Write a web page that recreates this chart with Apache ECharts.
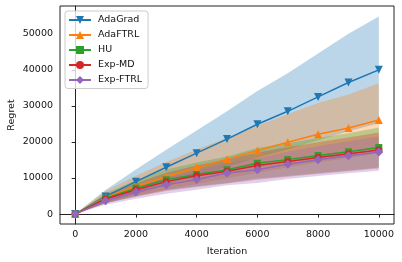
<!DOCTYPE html>
<html>
<head>
<meta charset="utf-8">
<script src="https://cdn.jsdelivr.net/npm/echarts@6/dist/echarts.min.js"></script>
<style>html,body{margin:0;padding:0;background:#fff}#c{width:402px;height:262px}</style>
</head>
<body>
<div id="c"></div>
<script>
const iterations = [0, 1000, 2000, 3000, 4000, 5000, 6000, 7000, 8000, 9000, 10000];
const xTicks = [0, 2000, 4000, 6000, 8000, 10000];
const yTicks = [0, 10000, 20000, 30000, 40000, 50000];

const adagradMean = [0, 4900, 9000, 13000, 16900, 20800, 24900, 28500, 32500, 36500, 40000];
const adagradHigh = [0, 6710, 12330, 17810, 23150, 28500, 34110, 39050, 44530, 50010, 54800];
const adagradLow  = [0, 3090, 5670, 8190, 10650, 13100, 15690, 17960, 20480, 23000, 25200];

const adaftrlMean = [0, 4600, 7650, 10400, 12900, 15240, 17620, 19940, 22150, 23850, 26100];
const adaftrlHigh = [0, 6390, 10630, 14460, 17930, 21180, 24490, 27720, 30790, 33150, 36280];
const adaftrlLow  = [0, 2990, 4970, 6760, 8390, 9910, 11450, 12960, 14400, 15500, 16970];

const huMean = [0, 4400, 7200, 9500, 11000, 12300, 14100, 15100, 16230, 17260, 18450];
const huHigh = [0, 5720, 9360, 12350, 14300, 15990, 18330, 19630, 21100, 22440, 23990];
const huLow  = [0, 3080, 5040, 6650, 7700, 8610, 9870, 10570, 11360, 12080, 12920];

const expmdMean = [0, 4200, 6750, 9000, 10600, 11900, 13450, 14570, 15680, 16700, 17800];
const expmdHigh = [0, 5330, 8570, 11430, 13460, 15110, 17080, 18500, 19910, 21210, 22610];
const expmdLow  = [0, 2980, 4790, 6390, 7530, 8450, 9550, 10340, 11130, 11860, 12640];

const expftrlMean = [0, 3700, 6100, 8100, 9600, 11400, 12300, 13850, 15040, 16150, 17200];
const expftrlHigh = [0, 4630, 7630, 10130, 12000, 14250, 15380, 17310, 18800, 20190, 21500];
const expftrlLow  = [0, 2590, 4270, 5670, 6720, 7980, 8610, 9700, 10530, 11310, 12040];

const names = ['AdaGrad', 'AdaFTRL', 'HU', 'Exp-MD', 'Exp-FTRL'];
const colors = ['#1f77b4', '#ff7f0e', '#2ca02c', '#d62728', '#9467bd'];
const fills = ['rgba(31,119,180,0.3)', 'rgba(255,127,14,0.3)', 'rgba(44,160,44,0.3)', 'rgba(214,39,40,0.3)', 'rgba(148,103,189,0.3)'];
const means = [adagradMean, adaftrlMean, huMean, expmdMean, expftrlMean];
const highs = [adagradHigh, adaftrlHigh, huHigh, expmdHigh, expftrlHigh];
const lows = [adagradLow, adaftrlLow, huLow, expmdLow, expftrlLow];
const symbols = ['path://M0,0 L10,0 L5,10 Z', 'triangle', 'rect', 'circle', 'diamond'];
const symbolSizes = [[8, 8], [8, 8], 7, 7, [9, 9]];

const FONT = 'DejaVu Sans';
const series = [];
names.forEach((n, k) => {
  series.push({
    name: n + ' band',
    type: 'custom',
    coordinateSystem: 'cartesian2d',
    z: 1,
    silent: true,
    data: [[0, 0]],
    renderItem: function (params, api) {
      const pts = [];
      for (let i = 0; i < iterations.length; i++) pts.push(api.coord([iterations[i], highs[k][i]]));
      for (let i = iterations.length - 1; i >= 0; i--) pts.push(api.coord([iterations[i], lows[k][i]]));
      return { type: 'polygon', shape: { points: pts }, style: { fill: fills[k], stroke: null } };
    }
  });
});
names.forEach((n, k) => {
  series.push({
    name: n,
    type: 'line',
    z: 3,
    data: iterations.map((x, i) => [x, means[k][i]]),
    symbol: symbols[k],
    symbolSize: symbolSizes[k],
    showSymbol: true,
    lineStyle: { width: 1.5, color: colors[k] },
    itemStyle: { color: colors[k], borderWidth: 0 },
    emphasis: { disabled: true }
  });
});

const chart = echarts.init(document.getElementById('c'), null, { renderer: 'canvas' });
chart.setOption({
  animation: false,
  grid: { left: 60, right: 8, top: 6, bottom: 38, containLabel: false, outerBoundsMode: 'none', show: true, borderColor: '#222', borderWidth: 1, backgroundColor: 'transparent' },
  xAxis: {
    type: 'value', min: -500, max: 10500,
    name: 'Iteration', nameLocation: 'middle', nameGap: 23, nameMoveOverlap: false,
    nameTextStyle: { fontFamily: FONT, fontSize: 9.5, color: '#111' },
    axisLine: { show: true, lineStyle: { color: '#222', width: 1 } },
    axisTick: { show: true, length: 3.5, customValues: xTicks, lineStyle: { color: '#222' } },
    axisLabel: { customValues: xTicks, margin: 6, fontFamily: FONT, fontSize: 9.5, color: '#111', formatter: v => String(v) },
    splitLine: { show: false }
  },
  yAxis: {
    type: 'value', min: -2750, max: 57700,
    name: 'Regret', nameLocation: 'middle', nameGap: 43, nameRotate: 90, nameMoveOverlap: false,
    nameTextStyle: { fontFamily: FONT, fontSize: 9.5, color: '#111' },
    axisLine: { show: true, lineStyle: { color: '#222', width: 1 } },
    axisTick: { show: true, length: 3.5, customValues: yTicks, lineStyle: { color: '#222' } },
    axisLabel: { customValues: yTicks, margin: 7, fontFamily: FONT, fontSize: 9.5, color: '#111', formatter: v => String(v) },
    splitLine: { show: false }
  },
  legend: {
    data: names,
    orient: 'vertical',
    left: 65, top: 11,
    padding: [3.5, 6, 3, 3],
    itemWidth: 22, itemHeight: 10, itemGap: 4,
    backgroundColor: 'rgba(255,255,255,0.8)',
    borderColor: '#cccccc', borderWidth: 1, borderRadius: 3,
    textStyle: { fontFamily: FONT, fontSize: 9.5, color: '#111', lineHeight: 11, padding: [0, 0, 0, 2] },
    selectedMode: false
  },
  series: series
});
</script>
</body>
</html>
